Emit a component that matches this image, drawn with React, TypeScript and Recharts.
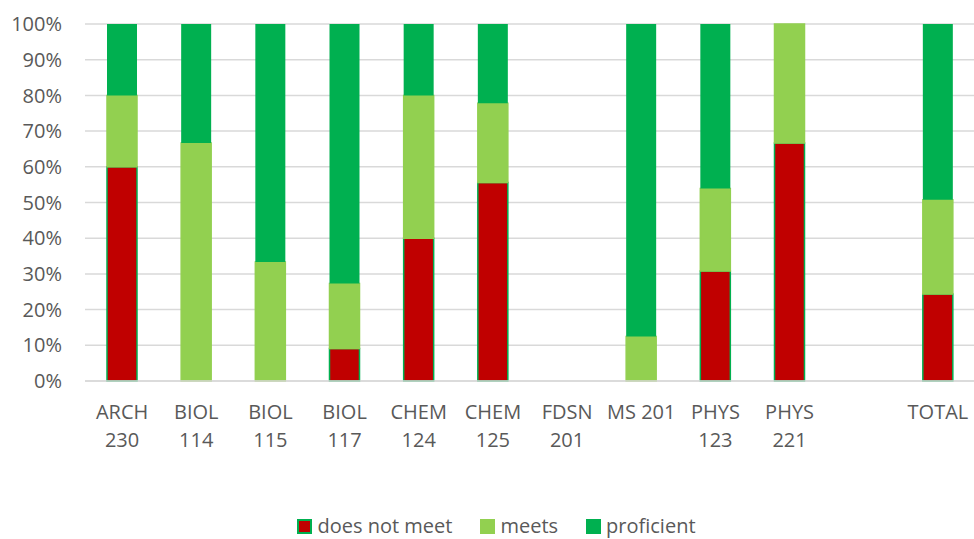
import React from "react";
import {
  BarChart,
  Bar,
  XAxis,
  YAxis,
  CartesianGrid,
  Legend,
} from "recharts";

// course outcome levels, percent of students per course
const COURSES = [
  "ARCH 230",
  "BIOL 114",
  "BIOL 115",
  "BIOL 117",
  "CHEM 124",
  "CHEM 125",
  "FDSN 201",
  "MS 201",
  "PHYS 123",
  "PHYS 221",
  "",
  "TOTAL",
];

const DOES_NOT_MEET = [60, 0, 0, 9.1, 40, 55.6, null, 0, 30.8, 66.7, null, 24.4];
const MEETS = [20, 66.7, 33.3, 18.2, 40, 22.2, null, 12.5, 23.1, 33.3, null, 26.4];
const PROFICIENT = [20, 33.3, 66.7, 72.7, 20, 22.2, null, 87.5, 46.1, 0, null, 49.2];

const Y_TICKS = [0, 10, 20, 30, 40, 50, 60, 70, 80, 90, 100];

const COLORS = {
  doesNotMeet: "#C00000",
  meets: "#92D050",
  proficient: "#00B050",
};

const LABELS = {
  doesNotMeet: "does not meet",
  meets: "meets",
  proficient: "proficient",
};

const FONT = "'Open Sans', sans-serif";
const TEXT_COLOR = "#595959";

const data = COURSES.map((course, i) => ({
  course,
  doesNotMeet: DOES_NOT_MEET[i],
  meets: MEETS[i],
  proficient: PROFICIENT[i],
}));

// wraps long course names onto two lines like the spreadsheet does
const CourseTick = ({ x, y, payload }: any) => {
  const label: string = payload.value || "";
  const lines = label.length > 6 ? label.split(" ") : [label];
  return (
    <text
      x={x}
      y={y}
      textAnchor="middle"
      fill={TEXT_COLOR}
      fontSize={20}
      fontFamily={FONT}
    >
      {lines.map((line, i) => (
        <tspan key={i} x={x} dy={i === 0 ? 38 : 28}>
          {line}
        </tspan>
      ))}
    </text>
  );
};

const LegendContent = () => {
  const items = [
    { key: "doesNotMeet", border: COLORS.proficient },
    { key: "meets", border: COLORS.meets },
    { key: "proficient", border: COLORS.proficient },
  ] as const;
  return (
    <div
      style={{
        height: 40,
        display: "flex",
        justifyContent: "center",
        alignItems: "flex-start",
        paddingTop: 16,
        paddingLeft: 18,
        boxSizing: "border-box",
        gap: 28,
        fontFamily: FONT,
        fontSize: 20,
        color: TEXT_COLOR,
      }}
    >
      {items.map((item) => (
        <div key={item.key} style={{ display: "flex", alignItems: "center", gap: 5 }}>
          <div
            style={{
              width: 15,
              height: 15,
              boxSizing: "border-box",
              backgroundColor: COLORS[item.key],
              border: `2px solid ${item.border}`,
            }}
          />
          <span style={{ lineHeight: "22px" }}>{LABELS[item.key]}</span>
        </div>
      ))}
    </div>
  );
};

export default function App() {
  return (
    <div
      style={{
        position: "absolute",
        left: 0,
        top: 0,
        width: 974,
        height: 539,
        overflow: "hidden",
        background: "#fff",
      }}
    >
      <BarChart
        width={975}
        height={539}
        data={data}
        margin={{ top: 24, right: 0, bottom: 0, left: 0 }}
        barSize={30}
      >
        <CartesianGrid
          vertical={false}
          stroke="#d9d9d9"
          strokeWidth={1.5}
        />
        <XAxis
          dataKey="course"
          height={118}
          axisLine={{ stroke: "#d9d9d9", strokeWidth: 1.5 }}
          tickLine={false}
          tickSize={0}
          tickMargin={0}
          interval={0}
          tick={<CourseTick />}
        />
        <YAxis
          width={85}
          domain={[0, 100]}
          ticks={Y_TICKS}
          tickFormatter={(v: number) => `${v}%`}
          axisLine={false}
          tickLine={false}
          tickSize={0}
          tickMargin={23}
          tick={{ fill: TEXT_COLOR, fontSize: 20, fontFamily: FONT }}
        />
        <Legend
          verticalAlign="bottom"
          content={<LegendContent />}
        />
        <Bar
          dataKey="doesNotMeet"
          stackId="a"
          fill={COLORS.doesNotMeet}
          stroke={COLORS.proficient}
          strokeWidth={1.5}
          isAnimationActive={false}
        />
        <Bar
          dataKey="meets"
          stackId="a"
          fill={COLORS.meets}
          stroke={COLORS.meets}
          strokeWidth={1.5}
          isAnimationActive={false}
        />
        <Bar
          dataKey="proficient"
          stackId="a"
          fill={COLORS.proficient}
          isAnimationActive={false}
        />
      </BarChart>
    </div>
  );
}
